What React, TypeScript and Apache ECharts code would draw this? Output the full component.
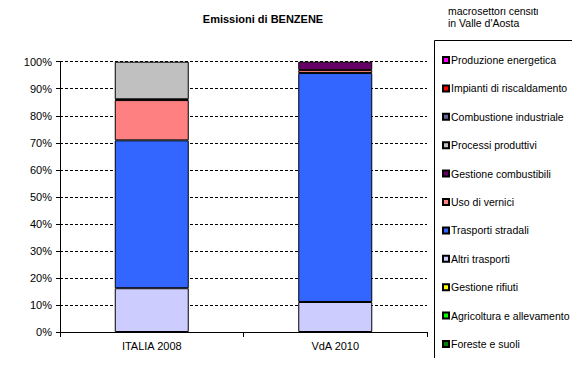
import React, { useEffect, useRef } from "react";
import * as echarts from "echarts";

const categories = ["ITALIA 2008", "VdA 2010"];
const yTicks = ["0%", "10%", "20%", "30%", "40%", "50%", "60%", "70%", "80%", "90%", "100%"];

// stacking order bottom -> top
const seriesNames = [
  "Foreste e suoli",
  "Agricoltura e allevamento",
  "Gestione rifiuti",
  "Altri trasporti",
  "Trasporti stradali",
  "Uso di vernici",
  "Gestione combustibili",
  "Processi produttivi",
  "Combustione industriale",
  "Impianti di riscaldamento",
  "Produzione energetica",
];
const seriesColors = [
  "#008000",
  "#00FF00",
  "#FFFF00",
  "#CCCCFF",
  "#3366FF",
  "#FF8080",
  "#660066",
  "#C0C0C0",
  "#666699",
  "#FF0000",
  "#FF00FF",
];
const foreste = [null, null];
const agricoltura = [null, null];
const gestioneRifiuti = [null, null];
const altriTrasporti = [16.2, 11.1];
const trasportiStradali = [54.7, 84.7];
const usoVernici = [14.9, 1.1];
const gestioneCombustibili = [0.3, 3.1];
const processiProduttivi = [13.9, null];
const combustioneIndustriale = [null, null];
const impiantiRiscaldamento = [null, null];
const produzioneEnergetica = [null, null];

const seriesData = [
  foreste,
  agricoltura,
  gestioneRifiuti,
  altriTrasporti,
  trasportiStradali,
  usoVernici,
  gestioneCombustibili,
  processiProduttivi,
  combustioneIndustriale,
  impiantiRiscaldamento,
  produzioneEnergetica,
];

const legendOrder = [...seriesNames].reverse();

export default function App() {
  const ref = useRef<HTMLDivElement>(null);
  useEffect(() => {
    if (!ref.current) return;
    const chart = echarts.init(ref.current, null, { renderer: "svg" });
    const font = "Liberation Sans, Arial, sans-serif";
    chart.setOption({
      animation: false,
      textStyle: { fontFamily: font },
      title: {
        text: "Emissioni di BENZENE",
        left: 258,
        top: 8,
        textAlign: "center",
        textStyle: { fontSize: 11, fontWeight: "bold", color: "#000", fontFamily: font },
      },
      graphic: [
        {
          type: "text",
          left: 448,
          top: 5,
          style: {
            text: "macrosettori censiti\nin Valle d'Aosta",
            fontSize: 10.5,
            lineHeight: 12,
            fill: "#000",
            fontFamily: font,
          },
        },
        {
          type: "rect",
          shape: { x: 434.5, y: 40.5, width: 143, height: 319 },
          style: { fill: "none", stroke: "#000", lineWidth: 1 },
          z: 0,
        },
      ],
      legend: {
        orient: "vertical",
        left: 442,
        top: 54,
        data: legendOrder,
        itemWidth: 6,
        itemHeight: 6,
        itemGap: 16.4,
        icon: "rect",
        padding: 0,
        textStyle: { fontSize: 10.5, color: "#000", fontFamily: font, lineHeight: 12, padding: [0, 0, 0, -3] },
      },
      grid: { left: 60, right: 153, top: 61.7, bottom: 34, containLabel: false },
      xAxis: {
        type: "category",
        data: categories,
        axisLine: { lineStyle: { color: "#000", width: 1 } },
        axisTick: { show: true, length: 5, inside: false, lineStyle: { color: "#000" } },
        axisLabel: { fontSize: 11, color: "#000", margin: 8, fontFamily: font },
      },
      yAxis: {
        type: "value",
        min: 0,
        max: 100,
        interval: 10,
        axisLine: { show: true, lineStyle: { color: "#000" } },
        axisTick: { show: true, length: 4, lineStyle: { color: "#000" } },
        axisLabel: {
          fontSize: 11,
          color: "#000",
          margin: 8,
          fontFamily: font,
          formatter: (v: number) => yTicks[Math.round(v / 10)],
        },
        splitLine: { show: true, lineStyle: { color: "#000", type: [3, 2], width: 1 } },
      },
      series: seriesNames.map((name, i) => ({
        name,
        type: "bar",
        stack: "total",
        barWidth: 74,
        data: seriesData[i],
        itemStyle: { color: seriesColors[i], borderColor: "#000", borderWidth: 1 },
      })),
    });
    return () => chart.dispose();
  }, []);
  return <div ref={ref} style={{ width: 580, height: 366, margin: -8 }} />;
}
